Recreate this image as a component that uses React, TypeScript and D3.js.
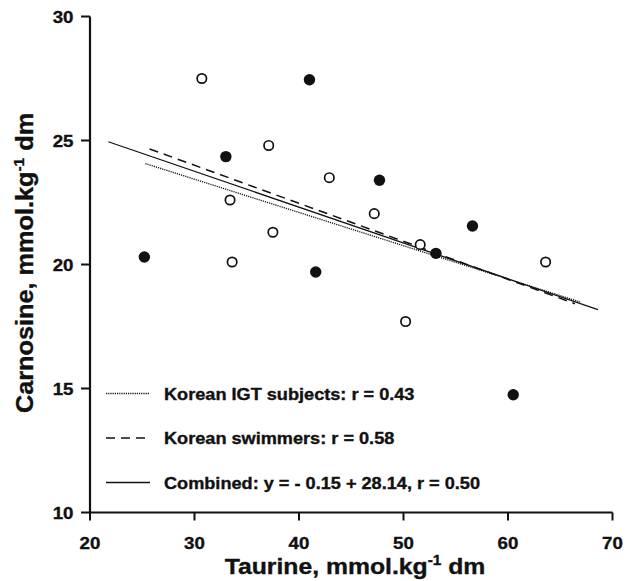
import React from "react";
import * as d3 from "d3";

// open circles (Korean IGT subjects)
const igtPoints = [
  { x: 30.7, y: 27.5 },
  { x: 37.1, y: 24.8 },
  { x: 33.4, y: 22.6 },
  { x: 37.5, y: 21.3 },
  { x: 33.6, y: 20.1 },
  { x: 42.9, y: 23.5 },
  { x: 47.2, y: 22.05 },
  { x: 51.6, y: 20.8 },
  { x: 63.6, y: 20.1 },
  { x: 50.2, y: 17.7 },
];

// filled circles (Korean swimmers)
const swimmerPoints = [
  { x: 25.2, y: 20.3 },
  { x: 33.0, y: 24.35 },
  { x: 41.0, y: 27.45 },
  { x: 41.6, y: 19.7 },
  { x: 47.7, y: 23.4 },
  { x: 56.6, y: 21.55 },
  { x: 53.1, y: 20.45 },
  { x: 60.5, y: 14.75 },
];

// regression lines, end points
const fitLines = [
  { label: "Korean IGT subjects: r = 0.43", dash: "1.2,1", width: 1.3, pts: [{ x: 25.3, y: 24.07 }, { x: 66.9, y: 18.49 }] },
  { label: "Korean swimmers: r = 0.58", dash: "9,6", width: 1.5, pts: [{ x: 25.7, y: 24.66 }, { x: 66.4, y: 18.42 }] },
  { label: "Combined: y = - 0.15 + 28.14, r = 0.50", dash: null, width: 1.3, pts: [{ x: 21.75, y: 24.95 }, { x: 68.6, y: 18.18 }] },
];

const xTicks = [20, 30, 40, 50, 60, 70];
const yTicks = [10, 15, 20, 25, 30];

const font = "'Liberation Sans', Arial, Helvetica, sans-serif";
const SX = 1.1; // the original type is a bit wider than Arial bold

const App = () => {
  const width = 635;
  const height = 581;
  const x = d3.scaleLinear().domain([20, 70]).range([90, 612.5]);
  const y = d3.scaleLinear().domain([10, 30]).range([512.5, 16.5]);

  const line = d3
    .line<{ x: number; y: number }>()
    .x((d) => x(d.x))
    .y((d) => y(d.y));

  const unit = (
    <>
      mmol.kg<tspan dy={-9} fontSize={14}>-1</tspan>
      <tspan dy={9}> dm</tspan>
    </>
  );

  // heavier type, like the original
  const txt = { fontWeight: "bold", fill: "#111", stroke: "#111", strokeWidth: 0.35 } as const;

  return (
    <div style={{ position: "absolute", left: 0, top: 0 }}>
      <svg width={width} height={height} style={{ display: "block", fontFamily: font }}>
        <rect width={width} height={height} fill="#fff" />

        {/* axes */}
        <line x1={x(20)} x2={x(20)} y1={y(30)} y2={y(10) + 1} stroke="#111" strokeWidth={2.2} />
        <line x1={x(20) - 1} x2={x(70)} y1={y(10)} y2={y(10)} stroke="#111" strokeWidth={2.2} />
        {yTicks.map((t) => (
          <g key={"y" + t}>
            <line x1={x(20) - 9} x2={x(20)} y1={y(t)} y2={y(t)} stroke="#111" strokeWidth={2} />
            <text
              transform={`translate(${x(20) - 16.5},${y(t) + 6.8}) scale(${SX},1)`}
              textAnchor="end"
              fontSize={17}
              {...txt}
            >
              {t}
            </text>
          </g>
        ))}
        {xTicks.map((t) => (
          <g key={"x" + t}>
            <line x1={x(t)} x2={x(t)} y1={y(10)} y2={y(10) + 8} stroke="#111" strokeWidth={2} />
            <text
              transform={`translate(${x(t)},${y(10) + 36}) scale(${SX},1)`}
              textAnchor="middle"
              fontSize={17}
              {...txt}
            >
              {t}
            </text>
          </g>
        ))}

        {/* axis titles */}
        <text transform={`translate(355,574) scale(${SX},1)`} textAnchor="middle" fontSize={22.5} {...txt}>
          Taurine, {unit}
        </text>
        <text
          transform={`translate(33,263) rotate(-90) scale(${SX},1)`}
          textAnchor="middle"
          fontSize={23}
          {...txt}
        >
          Carnosine, {unit}
        </text>

        {/* fit lines */}
        {fitLines.map((l, i) => (
          <path
            key={"l" + i}
            d={line(l.pts) || ""}
            fill="none"
            stroke="#111"
            strokeWidth={l.width}
            strokeDasharray={l.dash || undefined}
          />
        ))}

        {/* points */}
        {igtPoints.map((p, i) => (
          <circle key={"o" + i} cx={x(p.x)} cy={y(p.y)} r={4.7} fill="#fff" stroke="#111" strokeWidth={1.7} />
        ))}
        {swimmerPoints.map((p, i) => (
          <circle key={"f" + i} cx={x(p.x)} cy={y(p.y)} r={5.7} fill="#111" />
        ))}

        {/* legend */}
        {fitLines.map((l, i) => {
          const ly = 393.5 + i * 44.5;
          return (
            <g key={"lg" + i}>
              <line
                x1={106}
                x2={150}
                y1={ly}
                y2={ly}
                stroke="#111"
                strokeWidth={l.width}
                strokeDasharray={l.dash || undefined}
              />
              <text transform={`translate(164,${ly + 6}) scale(${SX},1)`} fontSize={16.5} {...txt}>
                {l.label}
              </text>
            </g>
          );
        })}
      </svg>
    </div>
  );
};

export default App;
